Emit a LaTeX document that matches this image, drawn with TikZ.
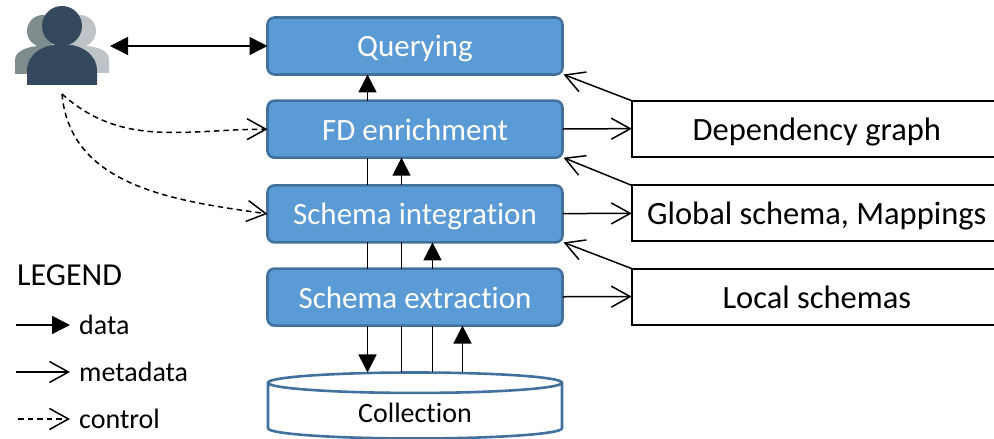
\documentclass[tikz,border=0pt]{standalone}
\usepackage{fontspec}
\setmainfont{Carlito}[Ligatures=NoCommon]
\usetikzlibrary{matrix,arrows.meta,shapes.geometric}
\definecolor{stagefill}{HTML}{5B9BD5}
\definecolor{stageline}{HTML}{41719C}
\definecolor{userdark}{HTML}{34495E}
\definecolor{usergray}{HTML}{7F8C8D}
\definecolor{userlight}{HTML}{BDC3C7}
\newcommand{\fs}[1]{\fontsize{#1}{#1}\selectfont}
% one figure of the user icon: head centre, head radius, body half width, body top, body bottom
\newcommand{\userfig}[6]{
  \fill[#1] (#2) circle (#3);
  \fill[#1] ([xshift=-#4pt,yshift=#6pt]#2) -- ([xshift=-#4pt,yshift=#6pt+14pt]#2)
    .. controls ([xshift=-#4pt,yshift=#5pt]#2) and ([xshift=#4pt,yshift=#5pt]#2) .. ([xshift=#4pt,yshift=#6pt+14pt]#2)
    -- ([xshift=#4pt,yshift=#6pt]#2) -- cycle;
}
\tikzset{
  stage/.style={draw=stageline,fill=stagefill,text=white,line width=2.6pt,rounded corners=7pt,outer sep=0pt,
    minimum width=295pt,minimum height=57pt,inner sep=0pt,text height=24pt,text depth=2pt,font=\fs{31}},
  store/.style={draw=black,fill=white,text=black,line width=2pt,sharp corners,outer sep=0pt,
    minimum width=370pt,minimum height=56pt,inner sep=0pt,text height=25pt,text depth=2pt,font=\fs{32.5}},
  coll/.style={shape=cylinder,shape border rotate=90,draw=stageline,fill=white,text=black,line width=2.6pt,
    sharp corners,minimum width=294pt,minimum height=66pt,aspect=.18,inner sep=0pt,font=\fs{28}},
  legendtxt/.style={anchor=west,inner ysep=0pt,inner xsep=9pt,font=\fs{28}},
  data/.style={line width=1.5pt,-{Triangle[length=18pt,width=18pt]}},
  meta/.style={line width=1.5pt,-{Straight Barb[length=19pt,width=21pt,line width=1.5pt]}},
  ctrl/.style={meta,dash pattern=on 5.5pt off 4pt}
}
\begin{document}
\begin{tikzpicture}[x=1pt,y=1pt,ampersand replacement=\&]
  \useasboundingbox (0,0) rectangle (994,439);
  \matrix(m)[matrix of nodes,anchor=north west,inner sep=0pt,row sep=23.6pt,column sep=67pt,
    nodes={stage},column 2/.style={nodes={store}},row 5/.style={nodes={coll}}] at (266,423)
  { Querying \& \\[0pt]
    FD enrichment \& Dependency graph \\[1.5pt]
    Schema integration \& Global schema, Mappings \\[0pt]
    Schema extraction \& Local schemas \\[20.7pt]
    Collection \& \\};
  % user icon
  \coordinate (userl) at (43,408);
  \coordinate (userr) at (80,408);
  \coordinate (userc) at (62,413);
  \userfig{usergray}{userl}{16}{28}{-10}{-43}
  \userfig{userlight}{userr}{16}{29}{-10}{-42}
  \userfig{userdark}{userc}{20}{35}{-9}{-59}
  \coordinate (useright) at (110,393);
  \coordinate (userdash) at (62,345);
  % data
  \draw[data,{Triangle[length=18pt,width=18pt]}-{Triangle[length=18pt,width=18pt]}] (useright) -- (useright -| m-1-1.west);
  \path[data]
    ([xshift=-47.5pt]m-2-1.north) edge ([xshift=-47.5pt]m-1-1.south)
    ([xshift=-47.5pt]m-4-1.south) edge ([xshift=-47.5pt]m-5-1.north)
    ([xshift=-13.5pt]m-3-1.north) edge ([xshift=-13.5pt]m-2-1.south)
    ([xshift=17.5pt]m-4-1.north) edge ([xshift=17.5pt]m-3-1.south)
    ([xshift=47.5pt]m-5-1.north) edge ([xshift=47.5pt]m-4-1.south);
  % plain pieces behind the stages
  \path[line width=1.5pt]
    ([xshift=-47.5pt]m-2-1.south) edge ([xshift=-47.5pt]m-3-1.north)
    ([xshift=-47.5pt]m-3-1.south) edge ([xshift=-47.5pt]m-4-1.north)
    ([xshift=-13.5pt]m-3-1.south) edge ([xshift=-13.5pt]m-4-1.north)
    ([xshift=-13.5pt]m-4-1.south) edge ([xshift=-13.5pt]m-5-1.north)
    ([xshift=17.5pt]m-4-1.south) edge ([xshift=17.5pt]m-5-1.north);
  % metadata
  \path[meta]
    (m-2-1) edge (m-2-2.west) (m-3-1) edge (m-3-2.west) (m-4-1) edge (m-4-2.west)
    (m-2-2.north west) edge ([xshift=1pt]m-1-1.south east)
    (m-3-2.north west) edge ([xshift=1pt]m-2-1.south east)
    (m-4-2.north west) edge ([xshift=1pt]m-3-1.south east);
  % control
  \draw[ctrl] (userdash) to[out=-42,in=180] (m-2-1.west);
  \draw[ctrl] (userdash) to[out=-85,in=172] (m-3-1.west);
  % legend
  \node[anchor=west,inner sep=0pt,font=\fs{32}] (legend) at (17,164) {LEGEND};
  \node[legendtxt] (legdata) at (70,114) {data};
  \node[legendtxt] (legmeta) at (70,67) {metadata};
  \node[legendtxt] (legctrl) at (70,20) {control};
  \coordinate (a) at (16,114);
  \coordinate (b) at (16,67);
  \coordinate (c) at (18,20);
  \draw[data] (a) -- (legdata.west);
  \draw[meta] (b) -- (legmeta.west);
  \draw[ctrl] (c) -- (legctrl.west);
\end{tikzpicture}
\end{document}
